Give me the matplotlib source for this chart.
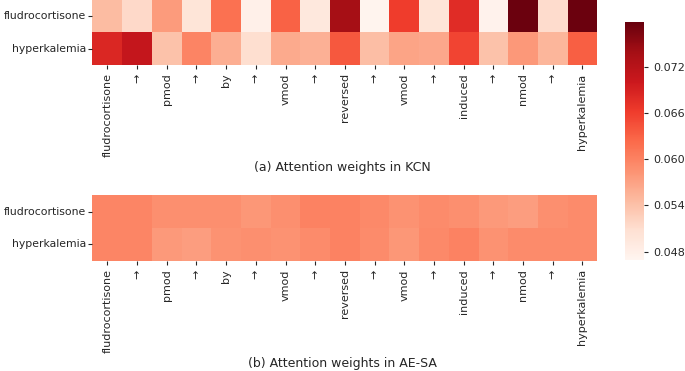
import numpy as np
import matplotlib
matplotlib.use('Agg')
import matplotlib.pyplot as plt
import seaborn as sns

# ── data ─────────────────────────────────────────────────────────────────────
rows = ['fludrocortisone', 'hyperkalemia']
cols = ['fludrocortisone', '→', 'pmod', '→', 'by', '→', 'vmod', '→', 'reversed',
        '→', 'vmod', '→', 'induced', '→', 'nmod', '→', 'hyperkalemia']

kcn_fludro = [0.0546, 0.0515, 0.0577, 0.0500, 0.0617, 0.0478, 0.0630, 0.0494, 0.0738,
              0.0472, 0.0661, 0.0500, 0.0679, 0.0475, 0.0775, 0.0512, 0.0775]
kcn_hyper = [0.0685, 0.0707, 0.0540, 0.0599, 0.0559, 0.0509, 0.0562, 0.0556, 0.0639,
             0.0543, 0.0568, 0.0565, 0.0654, 0.0540, 0.0580, 0.0552, 0.0633]

aesa_fludro = [0.0597, 0.0597, 0.0588, 0.0588, 0.0588, 0.0581, 0.0588, 0.0600, 0.0600,
               0.0594, 0.0585, 0.0591, 0.0588, 0.0578, 0.0575, 0.0588, 0.0591]
aesa_hyper = [0.0597, 0.0597, 0.0578, 0.0575, 0.0585, 0.0588, 0.0585, 0.0591, 0.0600,
              0.0591, 0.0581, 0.0594, 0.0600, 0.0585, 0.0591, 0.0591, 0.0591]

cbar_ticks = [0.048, 0.054, 0.060, 0.066, 0.072]
vmin, vmax = 0.0469, 0.0778

# ── figure ───────────────────────────────────────────────────────────────────
fig = plt.figure(figsize=(6.85, 3.71), dpi=100)
ax_top = fig.add_axes([0.135, 0.825, 0.737, 0.175])
ax_bot = fig.add_axes([0.135, 0.297, 0.737, 0.177])
cax = fig.add_axes([0.9124, 0.299, 0.0277, 0.6415])

kcn = np.array([kcn_fludro, kcn_hyper])
aesa = np.array([aesa_fludro, aesa_hyper])

sns.heatmap(kcn, ax=ax_top, cmap='Reds', vmin=vmin, vmax=vmax, cbar=False,
            xticklabels=cols, yticklabels=rows)
sns.heatmap(aesa, ax=ax_bot, cmap='Reds', vmin=vmin, vmax=vmax, cbar_ax=cax,
            xticklabels=cols, yticklabels=rows,
            cbar_kws={'ticks': cbar_ticks, 'format': '%.3f'})

for ax in (ax_top, ax_bot):
    ax.tick_params(axis='x', labelrotation=90, labelsize=8, colors='#262626',
                   length=3, pad=3)
    ax.tick_params(axis='y', labelrotation=0, labelsize=7.8, colors='#262626',
                   length=3, pad=1.5)
cax.tick_params(labelsize=8, colors='#262626', length=3)
cax.set_frame_on(False)

fig.text(0.5, 1 - 168 / 371, '(a) Attention weights in KCN', ha='center',
         va='center', fontsize=9, color='#262626')
fig.text(0.5, 1 - 363 / 371, '(b) Attention weights in AE-SA', ha='center',
         va='center', fontsize=9, color='#262626')

fig.savefig('out.png', dpi=100)
